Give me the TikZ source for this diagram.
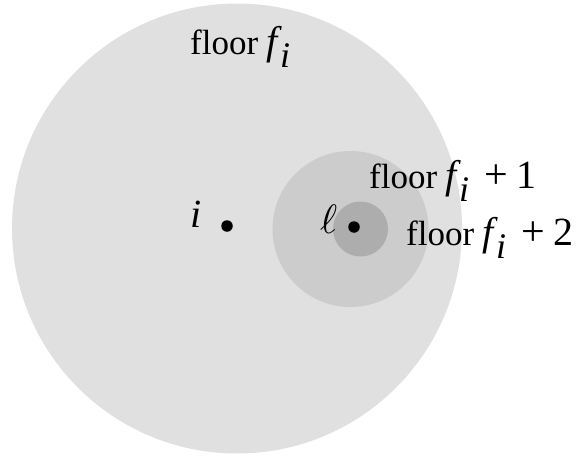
\documentclass[tikz,border=0pt]{standalone}
\usepackage{fontspec}
\setmainfont{Liberation Serif}
\definecolor{cone}{HTML}{E0E0E0}
\definecolor{ctwo}{HTML}{CCCCCC}
\definecolor{cthree}{HTML}{ADADAD}
\newcommand{\mfnt}{\fontsize{40}{40}\selectfont\itshape}
\newcommand{\fsubi}{{\mfnt f}\kern2pt\raisebox{-13pt}{\fontsize{36}{36}\selectfont\itshape i}}
\newcommand{\plusn}[1]{\kern15pt{\fontsize{42}{42}\selectfont +}\kern9pt{\fontsize{40}{40}\selectfont #1}}
\tikzset{
  lbl/.style={inner sep=0pt, anchor=base west, font=\fontsize{35}{40}\selectfont},
  dotnode/.style={circle, fill=black, inner sep=0pt, minimum size=11.5pt},
  region/.style={circle, inner sep=0pt, draw=none}
}
\begin{document}
\begin{tikzpicture}[x=1pt,y=-1pt]
\useasboundingbox (0,0) rectangle (578,455);
\node[region, fill=cone, minimum size=450pt] (big) at (237,228.5) {};
\node[region, fill=ctwo, minimum size=156pt] (mid) at (350.5,229) {};
\node[region, fill=cthree, minimum size=55pt] (small) at (360.5,229) {};
\node[dotnode] (di) at (227,226) {};
\node[dotnode] (dl) at (354,227) {};
\node[lbl] (li) at (190,227) {\fontsize{40}{40}\selectfont\itshape i};
\node[lbl] (ll) at (320,233) {\scalebox{4.1}{\normalsize$\ell$}};
\node[lbl] (f0) at (190,54) {floor \fsubi};
\node[lbl] (f1) at (369,188) {floor \fsubi\plusn{1}};
\node[lbl] (f2) at (406,245) {floor \fsubi\plusn{2}};
\end{tikzpicture}
\end{document}
